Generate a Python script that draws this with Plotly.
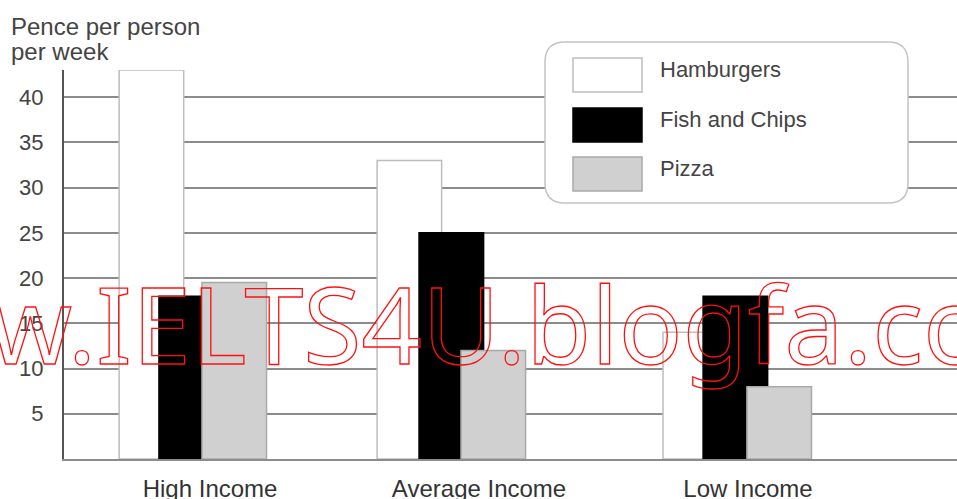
import plotly.graph_objects as go

# ---------------- data ----------------
categories = ["High Income", "Average Income", "Low Income"]
series_names = ["Hamburgers", "Fish and Chips", "Pizza"]
hamburgers = [43, 33, 14]
fish_and_chips = [18, 25, 18]
pizza = [19.5, 12, 8]
y_tick_values = [5, 10, 15, 20, 25, 30, 35, 40]
y_title_lines = ["Pence per person", "per week"]
watermark = "www.IELTS4U.blogfa.com"

# ---------------- layout geometry ----------------
W, H = 957, 499
ML, MR, MT, MB = 64, 0, 70, 40
PW, PH = W - ML - MR, H - MT - MB


def px_x(x):
    return (x - ML) / PW


def px_y(y):
    return (H - MB - y) / PH


series_values = [hamburgers, fish_and_chips, pizza]
series_style = [
    dict(fill="#ffffff", line="#bdbdbd", offset=[-0.338, -0.379, -0.316]),
    dict(fill="#000000", line="#000000", offset=[-0.19, -0.223, -0.167]),
    dict(fill="#d0d0d0", line="#a9a9a9", offset=[-0.03, -0.067, -0.004]),
]
BAR_W = 0.24
x_idx = list(range(len(categories)))

fig = go.Figure()
for name, vals, st in zip(series_names, series_values, series_style):
    fig.add_trace(go.Bar(
        x=x_idx, y=vals, name=name,
        offset=st["offset"], width=BAR_W,
        marker=dict(color=st["fill"], line=dict(color=st["line"], width=1.5)),
        showlegend=False, hoverinfo="skip",
    ))

FONT = "Liberation Sans, Arial, sans-serif"
TXT = "#444444"

shapes = []
annotations = []

# custom legend box (rounded)
bx0, bx1, by0, by1, r = 545, 908, 42, 203, 20
path = (
    f"M {px_x(bx0 + r)},{px_y(by0)} L {px_x(bx1 - r)},{px_y(by0)} "
    f"Q {px_x(bx1)},{px_y(by0)} {px_x(bx1)},{px_y(by0 + r)} "
    f"L {px_x(bx1)},{px_y(by1 - r)} "
    f"Q {px_x(bx1)},{px_y(by1)} {px_x(bx1 - r)},{px_y(by1)} "
    f"L {px_x(bx0 + r)},{px_y(by1)} "
    f"Q {px_x(bx0)},{px_y(by1)} {px_x(bx0)},{px_y(by1 - r)} "
    f"L {px_x(bx0)},{px_y(by0 + r)} "
    f"Q {px_x(bx0)},{px_y(by0)} {px_x(bx0 + r)},{px_y(by0)} Z"
)
shapes.append(dict(type="path", path=path, xref="paper", yref="paper",
                   fillcolor="white", line=dict(color="#c4c4c4", width=1.5),
                   layer="above"))
row_tops = [58, 108, 157]
for name, st, top in zip(series_names, series_style, row_tops):
    shapes.append(dict(type="rect", xref="paper", yref="paper",
                       x0=px_x(573), x1=px_x(642), y0=px_y(top), y1=px_y(top + 34),
                       fillcolor=st["fill"], line=dict(color=st["line"], width=1.5),
                       layer="above"))
    annotations.append(dict(text=name, xref="paper", yref="paper",
                            x=px_x(658), y=px_y(top + 11), xanchor="left",
                            yanchor="middle", showarrow=False,
                            font=dict(family=FONT, size=22, color=TXT)))

# y title (two lines, tight spacing)
for i, line in enumerate(y_title_lines):
    annotations.append(dict(text=line, xref="paper", yref="paper",
                            x=px_x(9), y=px_y(11 + 25 * i), xanchor="left",
                            yanchor="top", align="left", showarrow=False,
                            font=dict(family=FONT, size=24, color=TXT)))

# watermark
annotations.append(dict(text=watermark, xref="paper", yref="paper",
                        x=px_x(454), y=px_y(323), xanchor="center", yanchor="middle",
                        showarrow=False,
                        font=dict(family="Noto Sans", size=106, color="#ff0000")))

fig.update_layout(
    width=W, height=H,
    margin=dict(l=ML, r=MR, t=MT, b=MB, autoexpand=False),
    paper_bgcolor="white", plot_bgcolor="white",
    barmode="overlay",
    shapes=shapes, annotations=annotations,
    xaxis=dict(range=[-0.543, 2.777], tickvals=x_idx, ticktext=categories,
               showgrid=False, zeroline=False, showline=True,
               linecolor="#8c8c8c", linewidth=2, ticks="",
               automargin=False, ticklabelstandoff=7,
               tickfont=dict(family=FONT, size=24, color="#333333")),
    yaxis=dict(range=[0, 43], tickvals=y_tick_values, showgrid=True,
               gridcolor="#8c8c8c", gridwidth=2, zeroline=False,
               showline=True, linecolor="#555555", linewidth=2, ticks="",
               automargin=False, ticklabelstandoff=14,
               tickfont=dict(family=FONT, size=22, color=TXT)),
)

post = """
document.body.style.margin = '0';
document.documentElement.style.overflow = 'hidden';
document.body.style.overflow = 'hidden';
document.querySelectorAll('.annotation-text').forEach(function(t){
  if (t.textContent.indexOf('IELTS') >= 0) {
    t.style.fill = 'none';
    t.style.stroke = '#ff1010';
    t.style.strokeWidth = '1.3px';
  }
});
"""
fig.write_html("out.html", post_script=post,
               config={"displayModeBar": False, "staticPlot": True})
